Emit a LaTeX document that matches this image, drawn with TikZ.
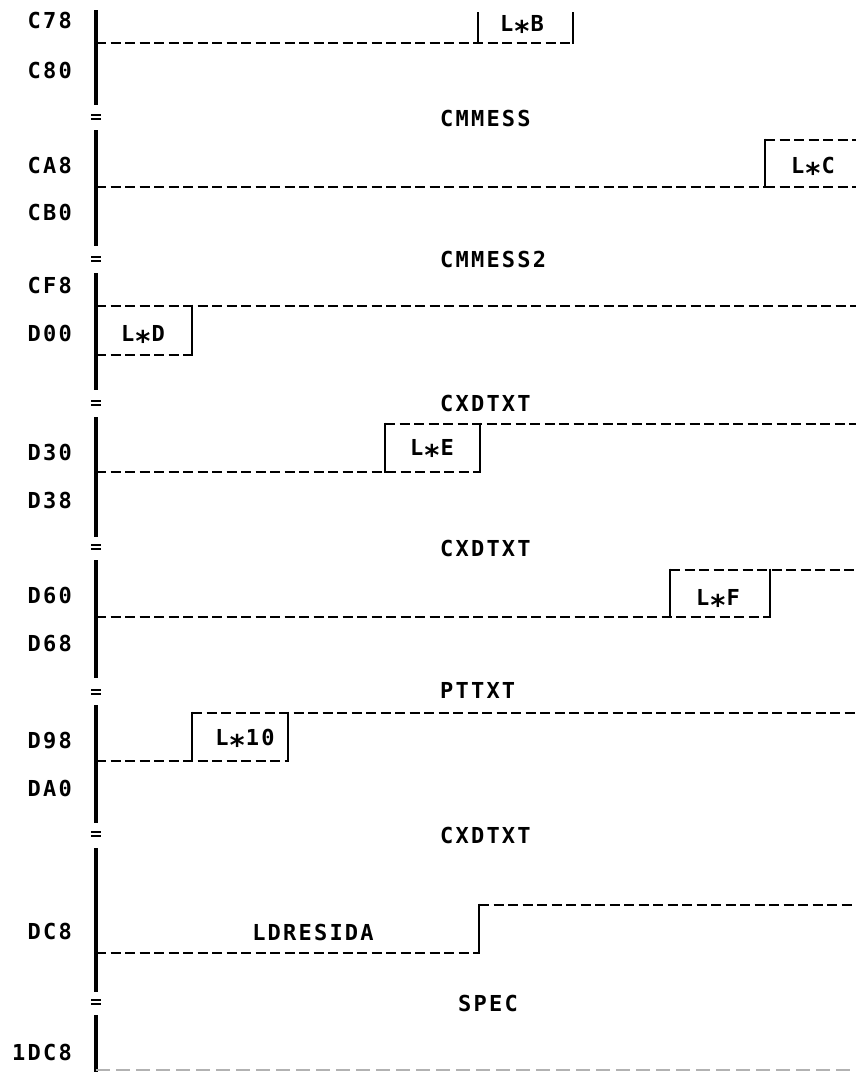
\documentclass[tikz,border=0pt]{standalone}
\usepackage{fontspec}
\usepackage{graphicx}
\newfontfamily\ibmfont{DejaVu Sans Mono}[LetterSpace=10]
\newcommand{\myast}{\raisebox{-0.48em}{\scalebox{1.3}{*}}}
\begin{document}
\begin{tikzpicture}[x=1pt,y=-1pt]
\tikzset{
  lbl/.style={font=\ibmfont\bfseries\fontsize{22}{26}\selectfont, inner sep=0pt, text height=16pt, text depth=0pt},
  dl/.style={dash pattern=on 10pt off 4.5pt, line width=2.6pt},
  sl/.style={line width=2.8pt},
  mainbar/.style={line width=3.4pt},
  eqmark/.style={line width=2pt},
  faint/.style={dash pattern=on 14pt off 6pt, line width=2pt, black!30}
}
\useasboundingbox (0,0) rectangle (856,1072);
% main vertical bar segments
\foreach \a/\b in {10/105,130/246,273/390,417/537,560/678,705/823,848/992,1015/1072}
  \draw[mainbar] (96,\a) -- (96,\b);
% equal marks
\foreach \y in {117,259,403,547,692,834,1002}
  \draw[eqmark] (91,\y-2.4) -- (101,\y-2.4) (91,\y+2.4) -- (101,\y+2.4);
% left labels
\foreach \t/\y [count=\i] in {C78/20,C80/70,CA8/165,CB0/212,CF8/285,D00/333,D30/452,D38/500,D60/595,D68/643,D98/740,DA0/788,DC8/931,1DC8/1052}
  \node[lbl, anchor=east] (addr\i) at (72,\y) {\t};
% centre labels
\node[lbl, anchor=west] (n1) at (440,118) {CMMESS};
\node[lbl, anchor=west] (n2) at (440,259) {CMMESS2};
\node[lbl, anchor=west] (n3) at (440,403) {CXDTXT};
\node[lbl, anchor=west] (n4) at (440,548) {CXDTXT};
\node[lbl, anchor=west] (n5) at (440,690) {PTTXT};
\node[lbl, anchor=west] (n6) at (440,835) {CXDTXT};
\node[lbl] (n7) at (488,1003) {SPEC};
% row L*B
\draw[dl] (96,43) -- (573,43);
\draw[sl] (478,12) -- (478,44.3) (573,12) -- (573,44.3);
\node[lbl] (lb) at (522,23) {L\myast B};
% row L*C
\draw[dl] (96,187) -- (765,187);
\draw[dl] (765,187) -- (856,187);
\draw[dl] (765,140) -- (856,140);
\draw[sl] (765,138.7) -- (765,188.3);
\node[lbl] (lc) at (813,165) {L\myast C};
% row L*D
\draw[dl] (96,306) -- (856,306);
\draw[dl] (96,355) -- (192,355);
\draw[sl] (192,304.7) -- (192,356.3);
\node[lbl] (ld) at (143,333) {L\myast D};
% row L*E
\draw[dl] (96,472) -- (480,472);
\draw[dl] (385,424) -- (856,424);
\draw[sl] (385,422.7) -- (385,473.3) (480,422.7) -- (480,473.3);
\node[lbl] (le) at (432,447) {L\myast E};
% row L*F
\draw[dl] (96,617) -- (770,617);
\draw[dl] (670,570) -- (856,570);
\draw[sl] (670,568.7) -- (670,618.3) (770,568.7) -- (770,618.3);
\node[lbl] (lf) at (718,597) {L\myast F};
% row L*10
\draw[dl] (96,761) -- (288,761);
\draw[dl] (192,713) -- (856,713);
\draw[sl] (192,711.7) -- (192,762.3) (288,711.7) -- (288,762.3);
\node[lbl] (l10) at (245,737) {L\myast 10};
% row LDRESIDA
\draw[dl] (96,953) -- (479,953);
\draw[dl] (479,905) -- (856,905);
\draw[sl] (479,903.7) -- (479,954.3);
\node[lbl] (ldr) at (313,932) {LDRESIDA};
% bottom faint line
\draw[faint] (96,1070) -- (856,1070);
\end{tikzpicture}
\end{document}
